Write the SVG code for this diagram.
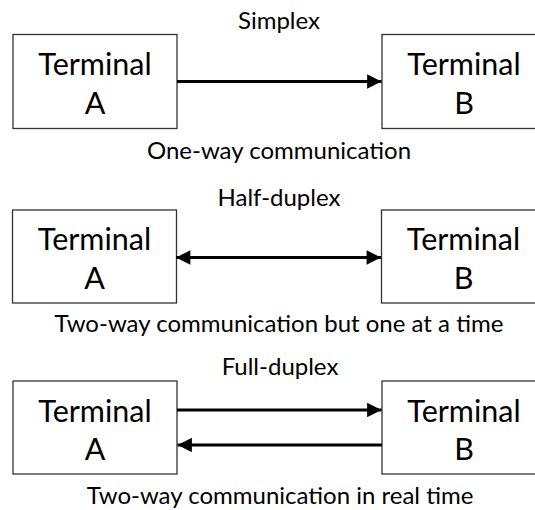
<svg xmlns="http://www.w3.org/2000/svg" width="535" height="510" viewBox="0 0 535 510">
<defs>
<style>
.box{fill:#fff;stroke:#333;stroke-width:1.3}
.term{font-family:Lato,"Open Sans","Liberation Sans",sans-serif;font-size:30.5px;fill:#000;text-anchor:middle}
.lbl{font-family:Lato,"Open Sans","Liberation Sans",sans-serif;font-size:24px;fill:#000;text-anchor:middle}
.arr{stroke:#000;stroke-width:3.2;fill:none}
</style>
<marker id="ah" viewBox="0 0 10 10" refX="10" refY="5" markerWidth="5" markerHeight="4.5" markerUnits="strokeWidth" orient="auto-start-reverse">
<path d="M0,0 L10,5 L0,10 Z" fill="#000"/>
</marker>
</defs>
<rect width="535" height="510" fill="#fff"/>
<g id="labels">
<text class="lbl" x="279" y="28.5">Simplex</text>
<text class="lbl" x="279" y="158.5">One-way communication</text>
<text class="lbl" x="279" y="205.5">Half-duplex</text>
<text class="lbl" x="279" y="332">Two-way communication but one at a time</text>
<text class="lbl" x="280" y="375">Full-duplex</text>
<text class="lbl" x="280" y="504">Two-way communication in real time</text>
</g>
<g id="simplexA"><rect class="box" x="13" y="34.5" width="164" height="94"/><text class="term" x="95" y="75">Terminal</text><text class="term" x="95" y="114">A</text></g>
<g id="simplexB"><rect class="box" x="382" y="34.5" width="164" height="94"/><text class="term" x="464" y="75">Terminal</text><text class="term" x="464" y="114">B</text></g>
<g id="halfA"><rect class="box" x="12.5" y="210" width="164" height="93"/><text class="term" x="94.5" y="250">Terminal</text><text class="term" x="94.5" y="289">A</text></g>
<g id="halfB"><rect class="box" x="381.5" y="210" width="164" height="93"/><text class="term" x="463.5" y="250">Terminal</text><text class="term" x="463.5" y="289">B</text></g>
<g id="fullA"><rect class="box" x="13" y="381" width="164" height="93"/><text class="term" x="95" y="421.5">Terminal</text><text class="term" x="95" y="460">A</text></g>
<g id="fullB"><rect class="box" x="382" y="381" width="164" height="93"/><text class="term" x="464" y="421.5">Terminal</text><text class="term" x="464" y="460">B</text></g>
<g id="connectors">
<line class="arr" x1="177" y1="81.5" x2="381.5" y2="81.5" marker-end="url(#ah)"/>
<line class="arr" x1="176" y1="257.5" x2="381" y2="257.5" marker-start="url(#ah)" marker-end="url(#ah)"/>
<line class="arr" x1="177" y1="410" x2="381.5" y2="410" marker-end="url(#ah)"/>
<line class="arr" x1="382" y1="445" x2="177.5" y2="445" marker-end="url(#ah)"/>
</g>
</svg>
